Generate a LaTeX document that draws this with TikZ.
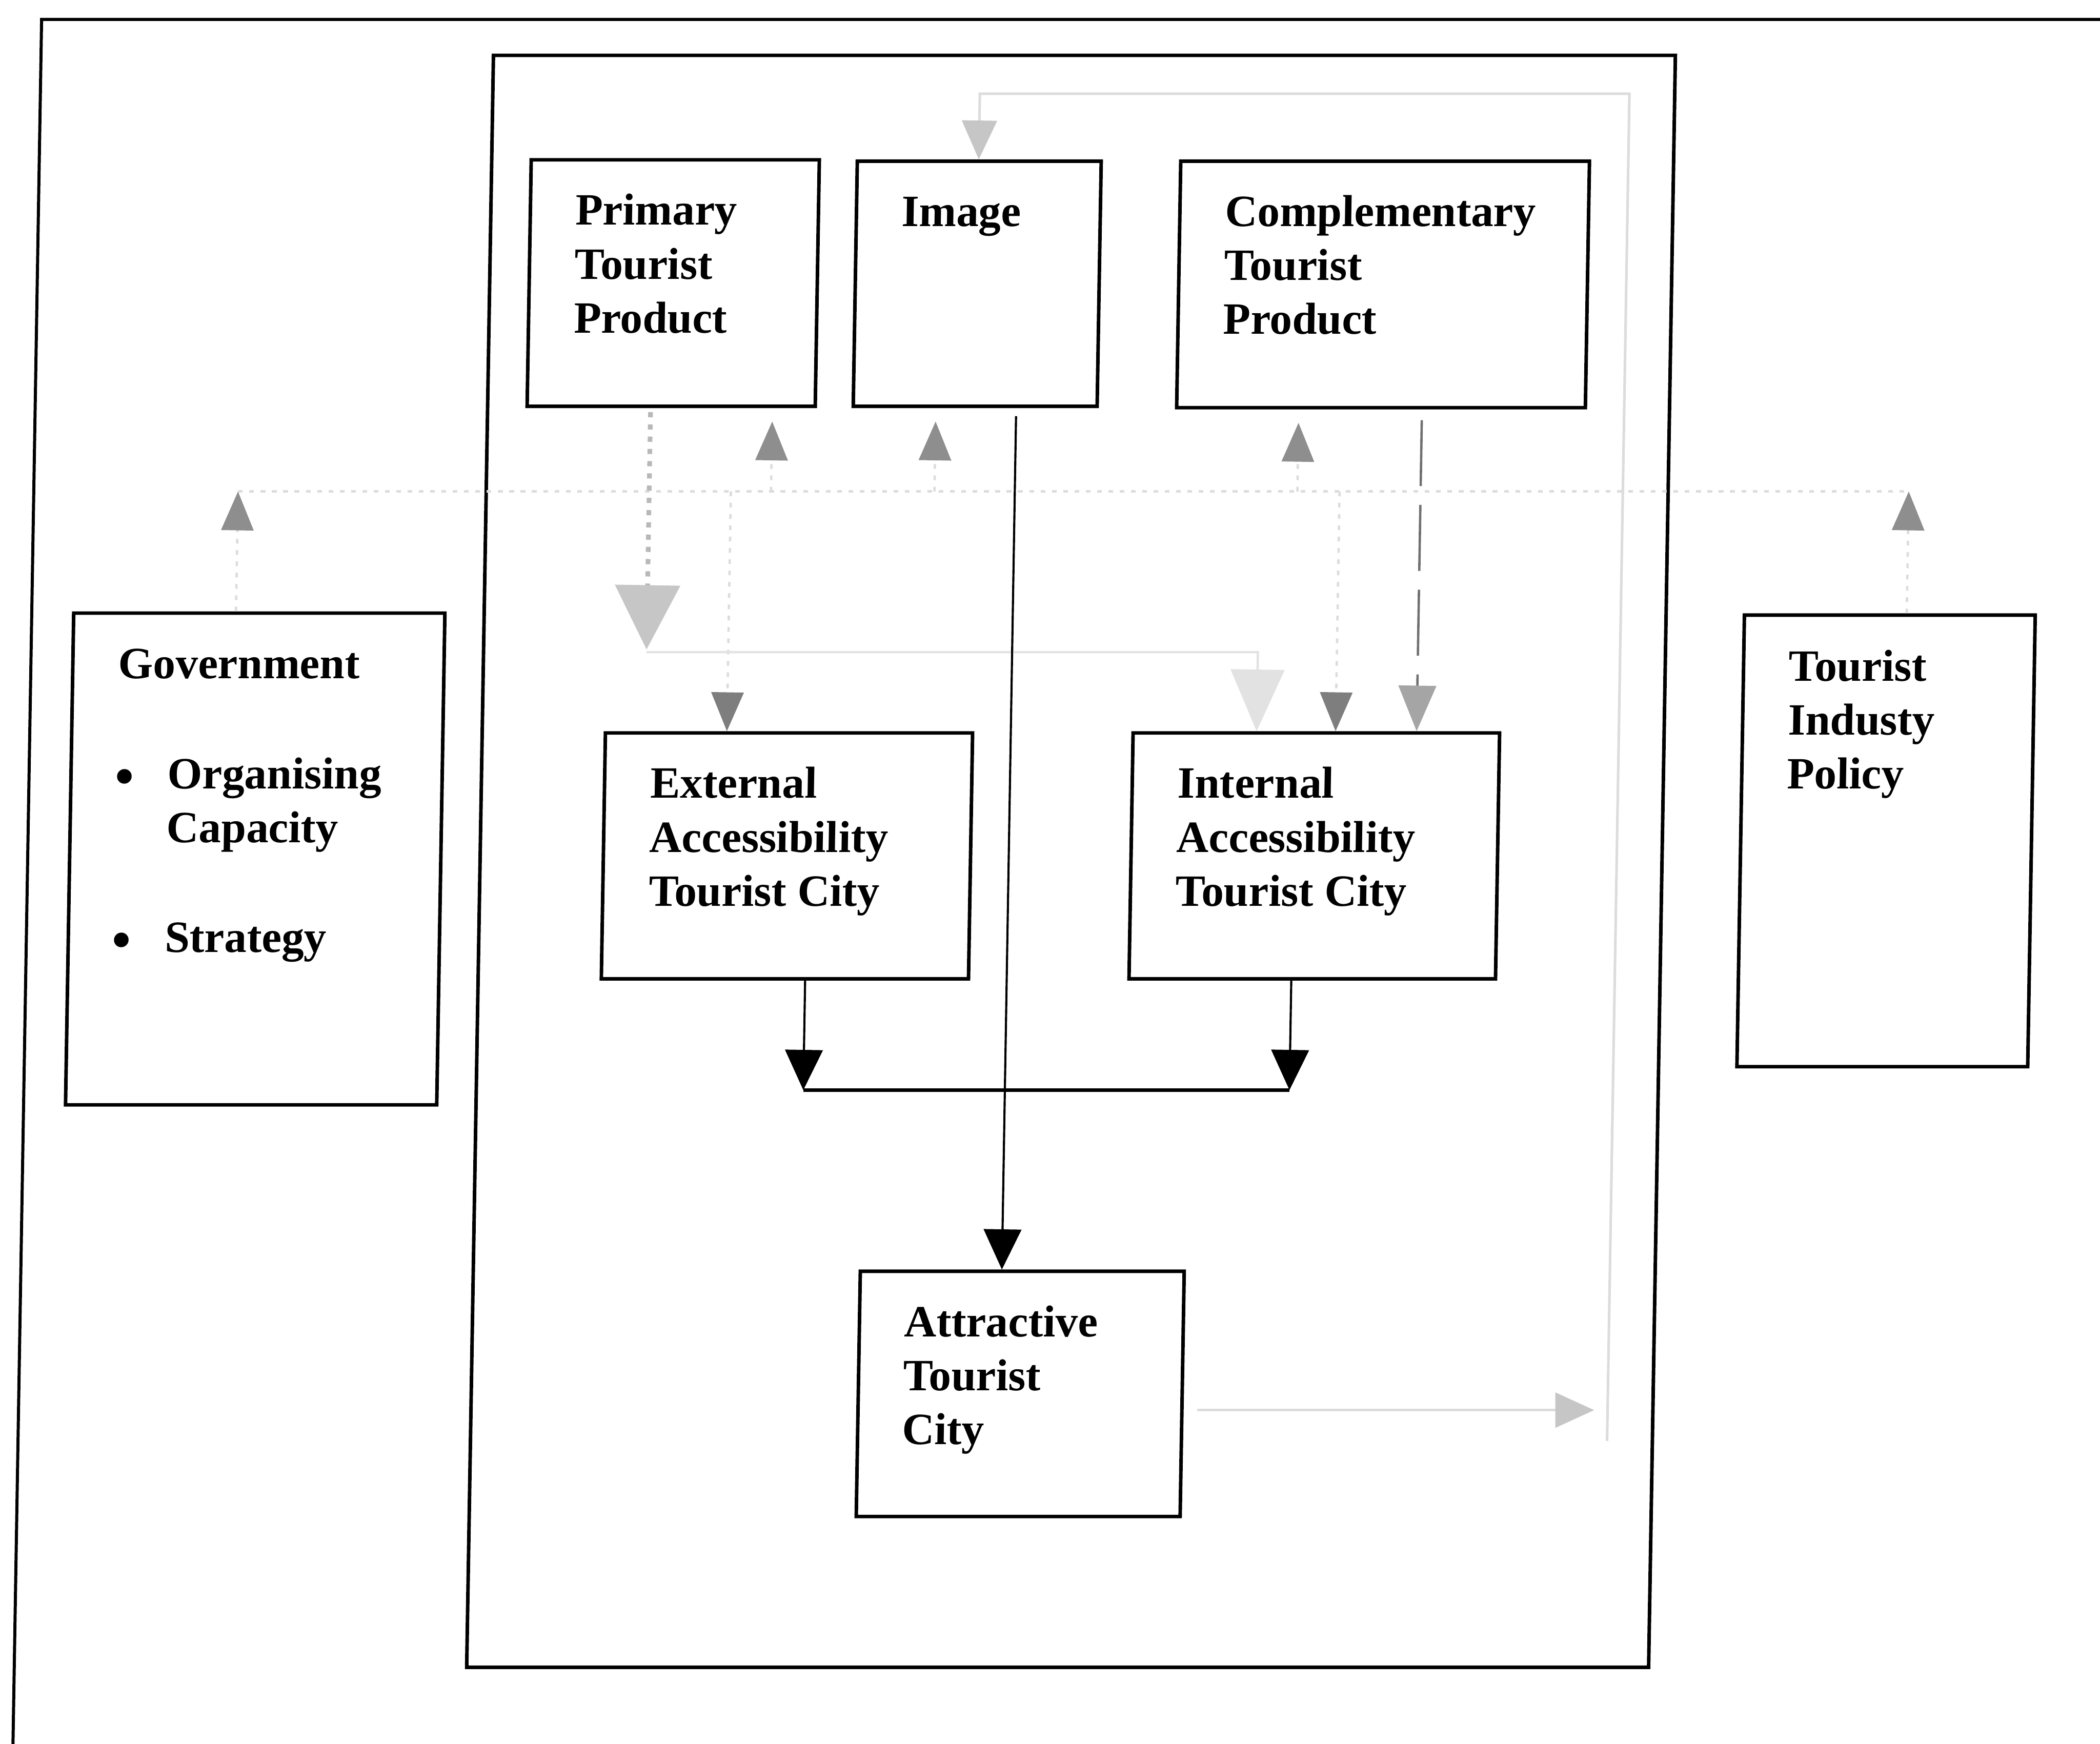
\documentclass[tikz,border=0pt]{standalone}
\usepackage{fontspec}
\setmainfont{Liberation Serif}
\usetikzlibrary{arrows.meta}

\definecolor{tipgray}{HTML}{8E8E8E}
\definecolor{tipdark}{HTML}{7E7E7E}
\definecolor{faintgray}{HTML}{DCDCDC}
\definecolor{palegray}{HTML}{C6C6C6}
\definecolor{ghostgray}{HTML}{E2E2E2}
\definecolor{dashgray}{HTML}{707070}
\definecolor{dotgray}{HTML}{B8B8B8}

\newcommand\stacked[1]{\parbox[t]{3.2cm}{\raggedright #1}}

\tikzset{
  frameline/.style={line width=0.65pt},
  panel/.style={draw, line width=0.75pt, rectangle, inner sep=0pt, anchor=north west},
  label/.style={inner sep=0pt, anchor=base west, font=\bfseries\fontsize{9.5}{11.45}\selectfont},
  dot/.style={inner sep=0pt, anchor=base west, font=\fontsize{13}{13}\selectfont},
  flow/.style={line width=0.45pt, -{Triangle[length=0.30cm, width=0.28cm]}},
  joinbar/.style={line width=0.75pt},
  busline/.style={draw=faintgray, line width=0.6pt, dash pattern=on 1pt off 1.4pt},
  riser/.style={draw=faintgray, line width=0.5pt, dash pattern=on 1pt off 1.4pt,
    -{Triangle[length=0.29cm, width=0.24cm, color=tipgray]}},
  dropper/.style={draw=faintgray, line width=0.5pt, dash pattern=on 1pt off 1.4pt,
    -{Triangle[length=0.29cm, width=0.24cm, color=tipdark]}},
  compdash/.style={draw=dashgray, line width=0.5pt, dash pattern=on 14pt off 4pt,
    -{Triangle[length=0.34cm, width=0.28cm, color=tipgray!80]}},
  primdot/.style={draw=dotgray, line width=1pt, dash pattern=on 1.1pt off 1.5pt,
    -{Triangle[length=0.48cm, width=0.48cm, color=palegray]}},
  ghost/.style={draw=ghostgray, line width=0.5pt,
    -{Triangle[length=0.46cm, width=0.40cm, color=ghostgray]}},
  feedback/.style={draw=faintgray, line width=0.55pt,
    -{Triangle[length=0.29cm, width=0.26cm, color=faintgray!90!black]}},
}

\begin{document}
\begin{tikzpicture}[x=0.01cm, y=-0.01cm]
\useasboundingbox (0,0) rectangle (1568,1302);
\clip (0,0) rectangle (1568,1302);
\fill[white] (0,0) rectangle (1568,1302);

\begin{scope}[shift={(0,651)}, xslant=0.0166, shift={(0,-651)}, transform shape]

% outer frame (left and top edges)
\draw[frameline] (20.5,1400) -- (20.5,14.5) -- (1560,14.5);

% boxes
\node[panel, minimum width=8.82cm, minimum height=12.03cm] (area) at (357,40) {};
\node[panel, minimum width=2.15cm, minimum height=1.84cm] (primary) at (386.5,118) {};
\node[panel, minimum width=1.82cm, minimum height=1.83cm] (image) at (630,119) {};
\node[panel, minimum width=3.05cm, minimum height=1.84cm] (comp) at (871.5,119) {};
\node[panel, minimum width=2.77cm, minimum height=3.67cm] (gov) at (50.5,456.5) {};
\node[panel, minimum width=2.17cm, minimum height=3.37cm] (policy) at (1298,458) {};
\node[panel, minimum width=2.74cm, minimum height=1.835cm] (ext) at (449,546) {};
\node[panel, minimum width=2.735cm, minimum height=1.835cm] (int) at (843,546) {};
\node[panel, minimum width=2.417cm, minimum height=1.83cm] (attr) at (646,948) {};

% texts
\node[label] (primarytxt) at (421,168) {\stacked{Primary\\Tourist\\Product}};
\node[label] (imagetxt) at (664.5,169) {\stacked{Image}};
\node[label] (comptxt) at (906,169) {\stacked{Complementary\\Tourist\\Product}};
\node[label] (govtxt) at (85.3,506.5) {\stacked{Government}};
\node[dot] (govdot1) at (83,595) {\textbullet};
\node[label] (govitem1) at (123.3,589) {\stacked{Organising\\Capacity}};
\node[dot] (govdot2) at (83,717) {\textbullet};
\node[label] (govitem2) at (123.3,711) {\stacked{Strategy}};
\node[label] (policytxt) at (1332.5,508.5) {\stacked{Tourist\\Industy\\Policy}};
\node[label] (exttxt) at (484,596) {\stacked{External\\Accessibility\\Tourist City}};
\node[label] (inttxt) at (877.5,596) {\stacked{Internal\\Accessibility\\Tourist City}};
\node[label] (attrtxt) at (680,998) {\stacked{Attractive\\Tourist\\City}};

% connector points
\coordinate (busL) at (173,367);
\coordinate (busR) at (1420.5,367);
\coordinate (upP) at (571,367);
\coordinate (upI) at (693,367);
\coordinate (upC) at (964,367);
\coordinate (dnE) at (541,367);
\coordinate (dnI) at (995.5,367);
\coordinate (cdx) at (1056,400);
\coordinate (pdx) at (480,485);
\coordinate (pix) at (936.5,487);
\coordinate (imx) at (753,600);
\coordinate (jl) at (602.5,814);
\coordinate (jr) at (965.5,814);
\coordinate (fbin) at (1207,1053);
\coordinate (fbbot) at (1207,1076);
\coordinate (fbtop) at (1207,70);
\coordinate (fbl) at (722,70);

% policy bus
\draw[busline] (busL) -- (busR);
\draw[riser] (gov.north -| busL) -- (busL);
\draw[riser] (policy.north -| busR) -- (busR);
\draw[riser, shorten >=0.1cm] (upP) -- (upP |- primary.south);
\draw[riser, shorten >=0.1cm] (upI) -- (upI |- image.south);
\draw[riser, shorten >=0.1cm] (upC) -- (upC |- comp.south);
\draw[dropper] (dnE) -- (dnE |- ext.north);
\draw[dropper] (dnI) -- (dnI |- int.north);

% product links
\draw[compdash, shorten <=0.08cm] (cdx |- comp.south) -- (cdx |- int.north);
\draw[primdot, shorten <=0.03cm] (pdx |- primary.south) -- (pdx);
\draw[ghost] (pdx |- pix) -- (pix) -- (pix |- int.north);

% main flows
\draw[flow, shorten <=0.06cm] (imx |- image.south) -- (imx |- attr.north);
\draw[flow] (jl |- ext.south) -- (jl);
\draw[flow] (jr |- int.south) -- (jr);
\draw[joinbar] (jl) -- (jr);

% feedback loop
\draw[feedback, shorten <=0.1cm, shorten >=0.1cm] (attr.east |- fbin) -- (fbin);
\draw[feedback] (fbbot) -- (fbtop) -- (fbl) -- (fbl |- image.north);

\end{scope}
\end{tikzpicture}
\end{document}
